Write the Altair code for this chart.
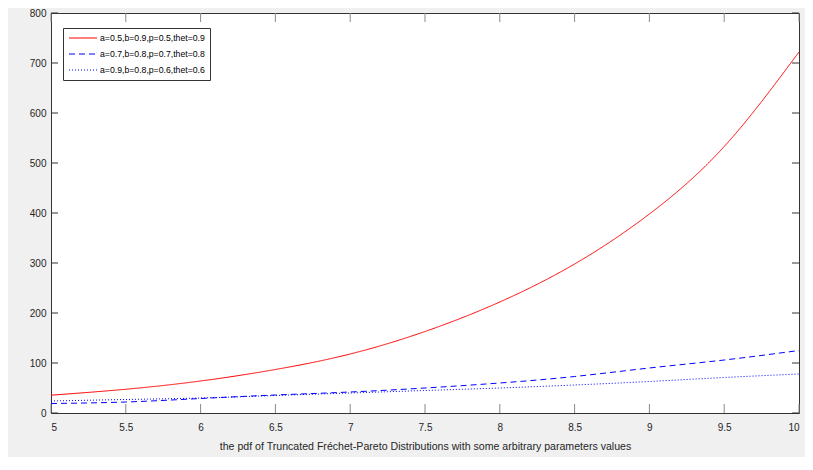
import altair as alt
import pandas as pd

xs = [5, 5.5, 6, 6.5, 7, 7.5, 8, 8.5, 9, 9.5, 10]
red = [35.6, 47.5, 64, 87, 118, 163, 222, 298, 398, 533, 722]
dashed = [19, 22, 29, 36, 42, 50, 60, 73, 90, 106, 125]
dotted = [24, 27, 30, 35, 40, 45, 50, 56, 63, 71, 78]
names = ["a=0.5,b=0.9,p=0.5,thet=0.9", "a=0.7,b=0.8,p=0.7,thet=0.8", "a=0.9,b=0.8,p=0.6,thet=0.6"]
colors = ["#ff0000", "#0000ff", "#0000ff"]
xticks = [5, 5.5, 6, 6.5, 7, 7.5, 8, 8.5, 9, 9.5, 10]
yticks = [0, 100, 200, 300, 400, 500, 600, 700, 800]

rows = []
for series, vals in zip(names, [red, dashed, dotted]):
    for x, v in zip(xs, vals):
        rows.append({"x": x, "y": v, "s": series})
df = pd.DataFrame(rows)
dx = pd.DataFrame({"t": xticks})
dy = pd.DataFrame({"t": yticks})

W, H = 748, 400
FONT = "Liberation Sans"

xs_scale = alt.Scale(domain=[5, 10], nice=False, zero=False)
ys_scale = alt.Scale(domain=[0, 800], nice=False)

dash_expr = (f"datum.value === '{names[1]}' ? [6,4] : "
             f"(datum.value === '{names[2]}' ? [1,2] : [1,0])")
color_expr = f"datum.value === '{names[0]}' ? '{colors[0]}' : '{colors[1]}'"

lines = alt.Chart(df).mark_line(strokeWidth=1, interpolate="natural").encode(
    x=alt.X("x:Q", scale=xs_scale,
            axis=alt.Axis(values=xticks, format="~g", ticks=False, domain=False, grid=False,
                          labelPadding=9, labelFontSize=10, labelColor="#262626", labelFont=FONT,
                          title="the pdf of Truncated Fréchet-Pareto Distributions with some arbitrary parameters values",
                          titleFont=FONT, titleFontSize=10.6, titleFontWeight="normal",
                          titleColor="#262626", titlePadding=9)),
    y=alt.Y("y:Q", scale=ys_scale,
            axis=alt.Axis(values=yticks, ticks=False, domain=False, grid=False,
                          labelPadding=5, labelFontSize=10, labelColor="#262626", labelFont=FONT,
                          title=None)),
    color=alt.Color("s:N", scale=alt.Scale(domain=names, range=colors),
                    legend=alt.Legend(title=None, orient="none", legendX=12, legendY=15,
                                      symbolType="M-1,0L6,0", symbolSize=64, symbolStrokeWidth=1.2,
                                      symbolDash={"expr": dash_expr},
                                      symbolStrokeColor={"expr": color_expr},
                                      labelFont=FONT, labelFontSize=8.7, labelColor="#000000",
                                      fillColor="white", strokeColor="#333333", padding=5,
                                      rowPadding=6, labelOffset=22)),
    strokeDash=alt.StrokeDash("s:N", scale=alt.Scale(domain=names, range=[[1, 0], [6, 4], [1, 2]]),
                              legend=None),
)

bottom_ticks = alt.Chart(dx).mark_rule(color="#888888", strokeWidth=1).encode(
    x=alt.X("t:Q", scale=xs_scale), y=alt.value(H), y2=alt.value(H - 9))
top_ticks = alt.Chart(dx).mark_rule(color="#888888", strokeWidth=1).encode(
    x=alt.X("t:Q", scale=xs_scale), y=alt.value(0), y2=alt.value(9))
left_ticks = alt.Chart(dy).mark_rule(color="#333333", strokeWidth=1).encode(
    y=alt.Y("t:Q", scale=ys_scale), x=alt.value(0), x2=alt.value(7))
right_ticks = alt.Chart(dy).mark_rule(color="#333333", strokeWidth=1).encode(
    y=alt.Y("t:Q", scale=ys_scale), x=alt.value(W), x2=alt.value(W - 7))

chart = alt.layer(lines, bottom_ticks, top_ticks, left_ticks, right_ticks).properties(
    width=W, height=H,
    autosize=alt.AutoSizeParams(type="none"),
    padding={"left": 43, "top": 5, "right": 6, "bottom": 44},
    background="#f0f0f0",
).configure_view(stroke="#333333", strokeWidth=1, fill="white")

chart.save("out.html", embed_options={"renderer": "svg", "actions": False})
